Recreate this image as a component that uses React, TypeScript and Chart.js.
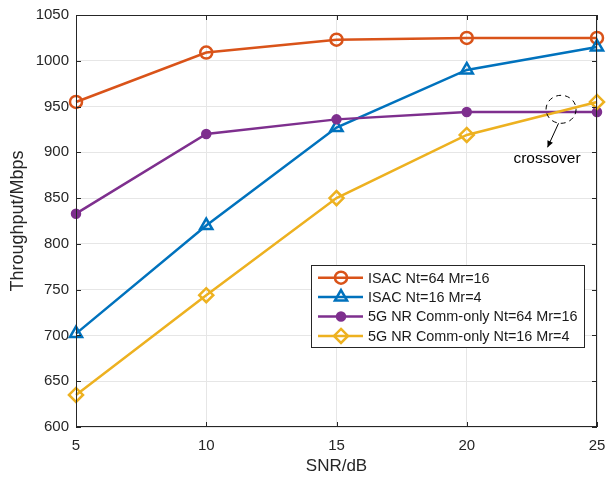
import React, { useEffect, useRef } from "react";
import { Chart, registerables } from "chart.js";

Chart.register(...registerables);

const snr = [5, 10, 15, 20, 25];
const isac64 = [955, 1009, 1023, 1025, 1025];
const isac16 = [702, 820, 927, 990, 1015];
const nr64 = [833, 920, 936, 944, 944];
const nr16 = [635, 744, 850, 919, 955];
const seriesNames = [
  "ISAC Nt=64 Mr=16",
  "ISAC Nt=16 Mr=4",
  "5G NR Comm-only Nt=64 Mr=16",
  "5G NR Comm-only Nt=16 Mr=4",
];
const colors = ["#D95319", "#0072BD", "#7E2F8E", "#EDB120"];
const styles = ["circle", "triangle", "circle", "rectRot"];
const radii = [6, 7, 4, 7];
const filled = [false, false, true, false];

const FONT = "'Liberation Sans', Arial, Helvetica, sans-serif";

function marker(ctx: CanvasRenderingContext2D, style: string, r: number, x: number, y: number, color: string, fill: boolean) {
  ctx.save();
  ctx.strokeStyle = color;
  ctx.fillStyle = color;
  ctx.lineWidth = 2.5;
  ctx.beginPath();
  if (style === "circle") {
    ctx.arc(x, y, r, 0, Math.PI * 2);
  } else if (style === "triangle") {
    ctx.moveTo(x, y - r);
    ctx.lineTo(x + r * 0.866, y + r * 0.5);
    ctx.lineTo(x - r * 0.866, y + r * 0.5);
    ctx.closePath();
  } else {
    ctx.moveTo(x, y - r);
    ctx.lineTo(x + r, y);
    ctx.lineTo(x, y + r);
    ctx.lineTo(x - r, y);
    ctx.closePath();
  }
  if (fill) ctx.fill();
  ctx.stroke();
  ctx.restore();
}

const boxPlugin = {
  id: "boxPlugin",
  afterDraw(chart: any) {
    const { ctx, chartArea: a, scales } = chart;
    ctx.save();
    ctx.strokeStyle = "#262626";
    ctx.lineWidth = 1;
    ctx.strokeRect(a.left + 0.5, a.top + 0.5, a.right - a.left - 1, a.bottom - a.top - 1);
    const xs = scales.x, ys = scales.y;
    ctx.beginPath();
    for (const v of snr) {
      const px = Math.round(xs.getPixelForValue(v)) + 0.5;
      ctx.moveTo(px, a.bottom); ctx.lineTo(px, a.bottom - 5);
      ctx.moveTo(px, a.top); ctx.lineTo(px, a.top + 5);
    }
    for (let v = 600; v <= 1050; v += 50) {
      const py = Math.round(ys.getPixelForValue(v)) + 0.5;
      ctx.moveTo(a.left, py); ctx.lineTo(a.left + 5, py);
      ctx.moveTo(a.right, py); ctx.lineTo(a.right - 5, py);
    }
    ctx.stroke();

    // crossover annotation
    const cx = xs.getPixelForValue(23.62);
    const cy = ys.getPixelForValue(947);
    ctx.strokeStyle = "#000";
    ctx.lineWidth = 1;
    ctx.setLineDash([5, 4]);
    ctx.beginPath();
    ctx.ellipse(cx, cy, 15, 14, 0, 0, Math.PI * 2);
    ctx.stroke();
    ctx.setLineDash([]);
    const x1 = cx - 2.5, y1 = cy + 14, x2 = cx - 13.5, y2 = cy + 38;
    ctx.beginPath();
    ctx.moveTo(x1, y1); ctx.lineTo(x2, y2);
    ctx.stroke();
    const ang = Math.atan2(y2 - y1, x2 - x1);
    ctx.fillStyle = "#000";
    ctx.beginPath();
    ctx.moveTo(x2, y2);
    ctx.lineTo(x2 - 7 * Math.cos(ang - 0.45), y2 - 7 * Math.sin(ang - 0.45));
    ctx.lineTo(x2 - 7 * Math.cos(ang + 0.45), y2 - 7 * Math.sin(ang + 0.45));
    ctx.closePath();
    ctx.fill();
    ctx.font = `15.5px ${FONT}`;
    ctx.textAlign = "center";
    ctx.textBaseline = "middle";
    ctx.fillStyle = "#000";
    ctx.fillText("crossover", cx - 14, cy + 49);

    // legend
    const lx = 311, ly = 265, lw = 273, lh = 82;
    ctx.fillStyle = "#fff";
    ctx.fillRect(lx, ly, lw, lh);
    ctx.strokeStyle = "#262626";
    ctx.lineWidth = 1;
    ctx.strokeRect(lx + 0.5, ly + 0.5, lw, lh);
    ctx.font = `14.4px ${FONT}`;
    ctx.textAlign = "left";
    seriesNames.forEach((name, i) => {
      const ry = ly + 12.7 + i * 19.4;
      ctx.strokeStyle = colors[i];
      ctx.lineWidth = 2.5;
      ctx.beginPath();
      ctx.moveTo(lx + 7, ry); ctx.lineTo(lx + 52, ry);
      ctx.stroke();
      marker(ctx, styles[i], radii[i], lx + 30, ry, colors[i], filled[i]);
      ctx.fillStyle = "#1a1a1a";
      ctx.fillText(name, lx + 57, ry + 1);
    });
    ctx.restore();
  },
};

export default function App() {
  const ref = useRef<HTMLCanvasElement>(null);
  useEffect(() => {
    const datasets = [isac64, isac16, nr64, nr16].map((d, i) => ({
      label: seriesNames[i],
      data: snr.map((x, j) => ({ x, y: d[j] })),
      borderColor: colors[i],
      backgroundColor: filled[i] ? colors[i] : "rgba(0,0,0,0)",
      borderWidth: 2.5,
      pointStyle: styles[i] as any,
      pointRadius: radii[i],
      pointBorderWidth: 2.5,
      pointBorderColor: colors[i],
      pointBackgroundColor: filled[i] ? colors[i] : "rgba(0,0,0,0)",
      tension: 0,
      order: 3 - i,
      clip: false as any,
    }));
    const chart = new Chart(ref.current!, {
      type: "line",
      data: { datasets },
      options: {
        animation: false,
        responsive: false,
        layout: { autoPadding: false, padding: { top: 15, right: 13, left: 0, bottom: 0 } },
        plugins: { legend: { display: false }, tooltip: { enabled: false } },
        scales: {
          x: {
            type: "linear",
            min: 5,
            max: 25,
            ticks: { stepSize: 5, color: "#262626", font: { family: FONT, size: 15 }, padding: 10, callback: (v: any) => String(v) },
            grid: { color: "#e6e6e6", drawTicks: false },
            border: { display: false },
            title: { display: true, text: "SNR/dB", color: "#262626", font: { family: FONT, size: 17 }, padding: { top: 0, bottom: 0 } },
            afterFit: (s: any) => { s.height = 50; s.paddingRight = 0; s.paddingLeft = 0; },
          },
          y: {
            min: 600,
            max: 1050,
            ticks: { stepSize: 50, color: "#262626", font: { family: FONT, size: 15 }, padding: 7, callback: (v: any) => String(v) },
            grid: { color: "#e6e6e6", drawTicks: false },
            border: { display: false },
            title: { display: true, text: "Throughput/Mbps", color: "#262626", font: { family: FONT, size: 18 }, padding: { top: 7.5, bottom: 0 } },
            afterFit: (s: any) => { s.width = 76; s.paddingTop = 0; s.paddingBottom = 0; },
          },
        },
      },
      plugins: [boxPlugin],
    });
    return () => chart.destroy();
  }, []);
  return (
    <div style={{ position: "fixed", left: 0, top: 0, width: 610, height: 477, background: "#fff" }}>
      <canvas ref={ref} width={610} height={477} style={{ width: 610, height: 477 }} />
    </div>
  );
}
